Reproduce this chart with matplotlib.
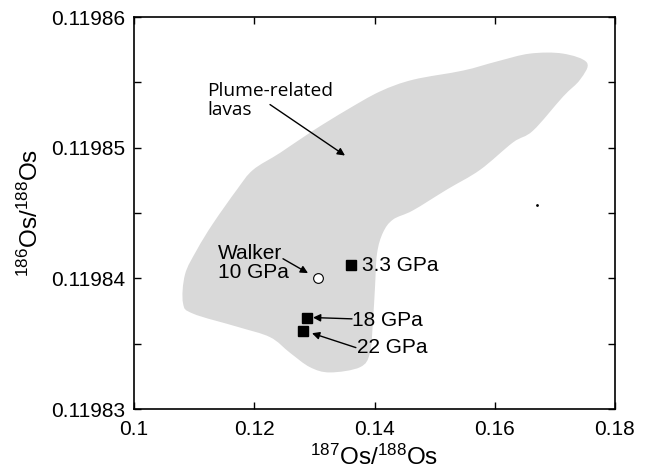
import matplotlib
matplotlib.use("Agg")
import matplotlib.pyplot as plt
from matplotlib.path import Path
from matplotlib.patches import PathPatch
import numpy as np

plt.rcParams['font.family'] = ['Liberation Sans', 'DejaVu Sans']
plt.rcParams['mathtext.default'] = 'regular'

# outline of the plume-related lavas field (187Os/188Os, 186Os/188Os)
field_x = [0.17534, 0.17135, 0.16586, 0.16037, 0.15472, 0.14640, 0.14091, 0.13543,
           0.12977, 0.12428, 0.11979, 0.11713, 0.11314, 0.11048, 0.10848, 0.10815,
           0.10981, 0.11713, 0.12262, 0.12595, 0.12927, 0.13260, 0.13759, 0.13925,
           0.13975, 0.14008, 0.14042, 0.14141, 0.14308, 0.14640, 0.15206, 0.15755,
           0.16303, 0.16636, 0.17135, 0.17418]
field_y = [0.1198565, 0.1198572, 0.1198572, 0.1198566, 0.1198559, 0.1198552, 0.1198543, 0.1198529,
           0.1198513, 0.1198496, 0.1198483, 0.1198468, 0.1198442, 0.1198422, 0.1198403, 0.1198381,
           0.1198373, 0.1198363, 0.1198355, 0.1198343, 0.1198332, 0.1198328, 0.1198332, 0.1198343,
           0.1198368, 0.1198393, 0.1198419, 0.1198435, 0.1198445, 0.1198452, 0.1198468, 0.1198483,
           0.1198504, 0.1198513, 0.1198539, 0.1198552]

# experiments
exp_labels = ['3.3 GPa', '18 GPa', '22 GPa']
exp_x = [0.1361, 0.1288, 0.1281]
exp_y = [0.119841, 0.119837, 0.119836]
walker_x = 0.1306
walker_y = 0.119840

xticks = [0.1, 0.12, 0.14, 0.16, 0.18]
xticklabels = ['0.1', '0.12', '0.14', '0.16', '0.18']
yticks = [0.11983, 0.11984, 0.11985, 0.11986]
yticklabels = ['0.11983', '0.11984', '0.11985', '0.11986']

fig = plt.figure(figsize=(6.49, 4.71), dpi=100)
ax = fig.add_axes([0.2065, 0.1316, 0.7411, 0.8323])
ax.set_xlim(0.1, 0.18)
ax.set_ylim(0.11983, 0.11986)


# smooth closed outline: catmull-rom through the traced points, drawn as bezier curves
def smooth_closed_path(xs, ys):
    pts = ax.transData.transform(np.column_stack([xs, ys]))
    n = len(pts)
    verts = [pts[0]]
    codes = [Path.MOVETO]
    for i in range(n):
        p0, p1, p2, p3 = pts[i - 1], pts[i], pts[(i + 1) % n], pts[(i + 2) % n]
        verts += [p1 + (p2 - p0) / 6.0, p2 - (p3 - p1) / 6.0, p2]
        codes += [Path.CURVE4] * 3
    verts = ax.transData.inverted().transform(np.array(verts))
    return Path(verts, codes)


ax.add_patch(PathPatch(smooth_closed_path(field_x, field_y), fc='#d9d9d9', ec='none', zorder=1))
ax.plot([0.16703], [0.1198456], marker='.', ms=2, color='k', ls='none')

ax.plot(exp_x, exp_y, ls='none', marker='s', ms=7, mfc='k', mec='k', zorder=3)
ax.plot([walker_x], [walker_y], ls='none', marker='o', ms=7, mfc='white', mec='k', mew=0.8, zorder=3)

fs = 15
arrow = dict(arrowstyle='-|>', color='k', lw=1.0, mutation_scale=11, shrinkA=0, shrinkB=0)

ax.text(0.11214, 0.1198536, 'Plume-related\nlavas', fontsize=13.8, va='center', ha='left',
        linespacing=1.05, family=['Open Sans', 'DejaVu Sans'])
ax.annotate('', xy=(0.13509, 0.1198494), xytext=(0.12262, 0.1198533), arrowprops=arrow)

ax.text(0.11397, 0.1198412, 'Walker\n10 GPa', fontsize=fs, va='center', ha='left', linespacing=1.0)
ax.annotate('', xy=(0.12894, 0.1198404), xytext=(0.12478, 0.1198415), arrowprops=arrow)

ax.text(0.13792, exp_y[0], exp_labels[0], fontsize=fs, va='center', ha='left')
ax.text(0.13626, 0.1198368, exp_labels[1], fontsize=fs, va='center', ha='left')
ax.annotate('', xy=(0.12977, 0.1198370), xytext=(0.13626, 0.1198369), arrowprops=arrow)
ax.text(0.13709, 0.1198347, exp_labels[2], fontsize=fs, va='center', ha='left')
ax.annotate('', xy=(0.12960, 0.1198358), xytext=(0.13690, 0.1198347), arrowprops=arrow)

ax.set_xticks(xticks)
ax.set_xticklabels(xticklabels)
ax.set_yticks(yticks)
ax.set_yticklabels(yticklabels)
ax.set_yticks(np.array(yticks[:-1]) + 0.000005, minor=True)
ax.tick_params(which='both', direction='in', top=True, right=True, length=5, width=1.0,
               labelsize=fs)
ax.tick_params(axis='x', pad=8)
ax.tick_params(axis='y', pad=6)
for s in ax.spines.values():
    s.set_linewidth(1.2)

ax.set_xlabel('$^{187}$Os/$^{188}$Os', fontsize=17.5, labelpad=4)
ax.set_ylabel('$^{186}$Os/$^{188}$Os', fontsize=17.5, labelpad=6)

fig.savefig('out.png', dpi=100)
